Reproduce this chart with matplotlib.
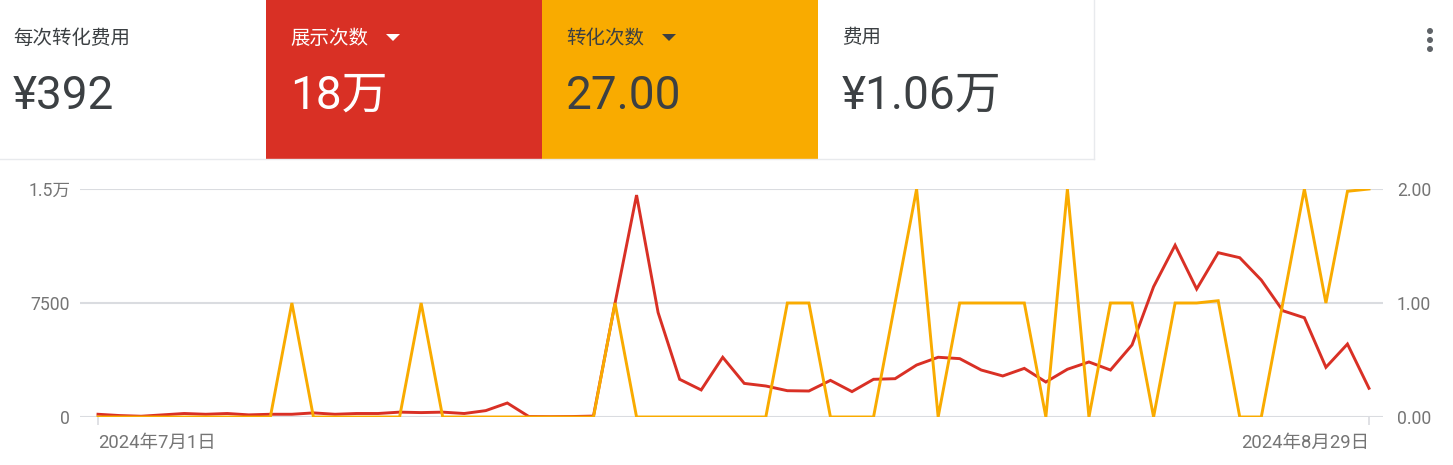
import numpy as np
import pandas as pd
import matplotlib
matplotlib.use('Agg')
import matplotlib.pyplot as plt
from matplotlib.patches import Rectangle, Polygon, Circle

plt.rcParams['font.family'] = ['Roboto', 'Noto Sans CJK SC', 'DejaVu Sans']

# daily data, 2024-07-01 .. 2024-08-29
dates = pd.date_range('2024-07-01', '2024-08-29', freq='D')
impressions = [180, 95, 50, 140, 230, 180, 230, 140, 180, 180,
               270, 180, 230, 230, 320, 290, 320, 230, 420, 920,
               30, 20, 30, 60, 7480, 14600, 6870, 2480, 1780, 3930,
               2210, 2040, 1730, 1710, 2410, 1670, 2480, 2520, 3420, 3930,
               3840, 3090, 2700, 3200, 2300, 3140, 3620, 3090, 4740, 8570,
               11300, 8420, 10810, 10480, 9010, 6990, 6530, 3270, 4800, 1890]
conversions = [0, 0, 0, 0, 0, 0, 0, 0, 0, 1,
               0, 0, 0, 0, 0, 1, 0, 0, 0, 0,
               0, 0, 0, 0, 1, 0, 0, 0, 0, 0,
               0, 0, 1, 1, 0, 0, 0, 1, 2, 0,
               1, 1, 1, 1, 0, 2, 0, 1, 1, 0,
               1, 1, 1.02, 0, 0, 1, 2, 1, 1.98, 2]

# summary cards
card_titles = ['每次转化费用', '展示次数', '转化次数', '费用']
card_values = ['¥392', '18万', '27.00', '¥1.06万']

left_ticks = [0, 7500, 15000]
left_labels = ['0', '7500', '1.5万']
right_ticks = [0, 1, 2]
right_labels = ['0.00', '1.00', '2.00']
x_labels = ['2024年7月1日', '2024年8月29日']

RED = '#d93025'
ORANGE = '#f9ab00'
DARK = '#3c4043'
GRAY = '#757575'
GRID = '#dadce0'

W, H = 1453, 465
fig = plt.figure(figsize=(W / 100, H / 100), dpi=100)

# overlay in pixel coordinates for the cards
bg = fig.add_axes([0, 0, 1, 1])
bg.set_xlim(0, W)
bg.set_ylim(H, 0)
bg.axis('off')

card_x = [0, 266, 542, 818]
card_w = 276
card_fill = ['white', RED, ORANGE, 'white']
card_text = [DARK, 'white', DARK, DARK]
bg.plot([0, 1094], [159.5, 159.5], color='#e8eaed', lw=1)
bg.plot([1093.5, 1093.5], [0, 159.5], color='#e8eaed', lw=1)
for i in range(4):
    x0 = card_x[i]
    w = 266 if i == 0 else card_w
    if card_fill[i] != 'white':
        bg.add_patch(Rectangle((x0, 0), w, 160, color=card_fill[i], lw=0))
    tx = 13 if i == 0 else x0 + 24
    bg.text(tx, 38, card_titles[i], fontsize=14, color=card_text[i],
            va='center', ha='left', family=['Noto Sans CJK SC'])
    bg.text(tx, 96, card_values[i], fontsize=33, color=card_text[i],
            va='center', ha='left')
    if i in (1, 2):
        cx = x0 + 127
        bg.add_patch(Polygon([(cx - 7, 34), (cx + 7, 34), (cx, 41)],
                             closed=True, color=card_text[i], lw=0))

# menu dots
for yy in (31, 40, 49):
    bg.add_patch(Circle((1430, yy), 3, color='#5f6368', lw=0))

# chart
ax = fig.add_axes([80 / W, (H - 417) / H, (1383 - 80) / W, 228 / H])
ax2 = ax.twinx()
x = np.arange(len(dates))
step = (1369 - 98) / (len(dates) - 1)
ax.set_xlim((80 - 98) / step, (1383 - 98) / step)

ax.plot(x, impressions, color=RED, lw=2.1, solid_joinstyle='miter')
ax2.plot(x, conversions, color=ORANGE, lw=2.1, solid_joinstyle='miter')

ax.set_ylim(0, 15000)
ax2.set_ylim(0, 2)
ax.set_yticks(left_ticks, left_labels)
ax2.set_yticks(right_ticks, right_labels)
ax.yaxis.grid(True, color=GRID, lw=1.5)
ax.set_axisbelow(True)

for a in (ax, ax2):
    for s in a.spines.values():
        s.set_visible(False)
ax.tick_params(axis='y', length=0, pad=7, labelsize=12.7, labelcolor=GRAY)
ax2.tick_params(axis='y', length=0, pad=10, labelsize=12.7, labelcolor=GRAY)

ax.set_xticks([x[0], x[-1]], x_labels)
ax.tick_params(axis='x', length=6, width=1.2, color=GRID, pad=6,
               labelsize=13.3, labelcolor=GRAY)
for lab, ha in zip(ax.get_xticklabels(), ['left', 'right']):
    lab.set_ha(ha)

fig.savefig('out.png', dpi=100)
